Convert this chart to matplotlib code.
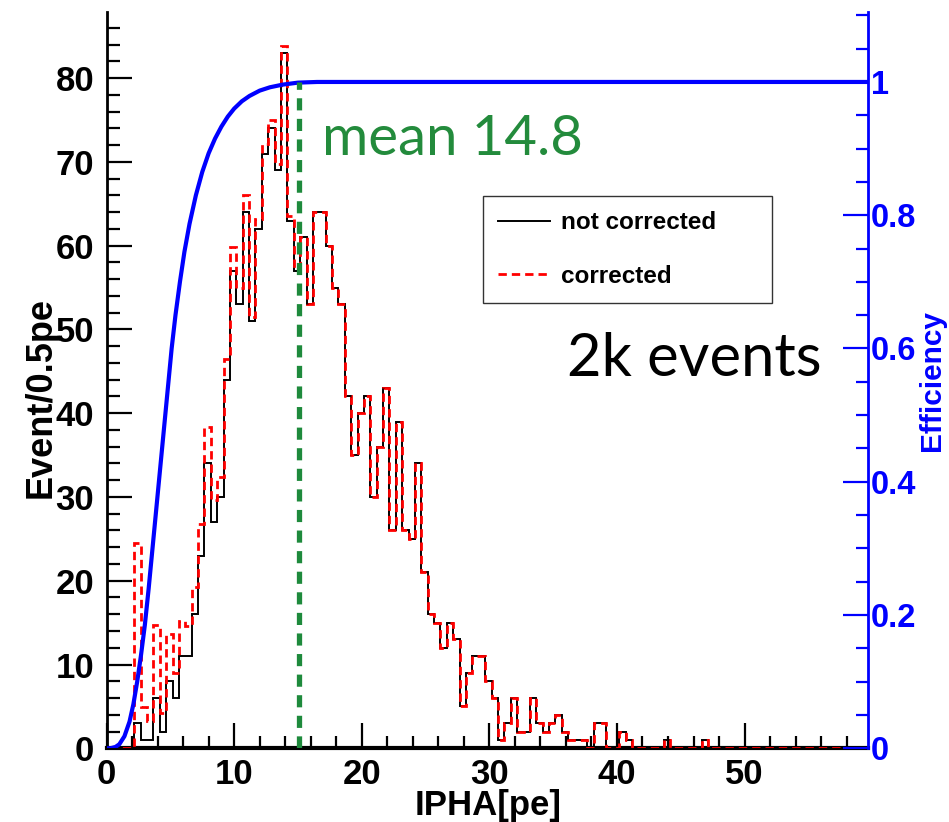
import numpy as np
import matplotlib
matplotlib.use('Agg')
import matplotlib.pyplot as plt
from matplotlib.ticker import MultipleLocator, FixedLocator, FixedFormatter

# ---------------- data ----------------
bin_start = 0.17
bin_width = 0.5

not_corrected = [0, 0, 0, 0, 3, 1, 1, 6, 2, 8,
                 6, 11, 11, 16, 23, 34, 27, 30, 44, 57,
                 53, 64, 51, 62, 71, 74, 69, 83, 63, 57,
                 61, 53, 64, 64, 60, 55, 53, 42, 35, 40,
                 42, 30, 36, 43, 26, 39, 26, 25, 34, 21,
                 16, 15, 12, 15, 13, 5, 9, 11, 11, 8,
                 6, 1, 3, 6, 2, 2, 6, 3, 2, 3,
                 4, 2, 1, 1, 1, 0, 3, 3, 0, 0,
                 2, 1, 0, 0, 0, 0, 0, 1, 0, 0,
                 0, 0, 0, 1, 0, 0, 0, 0, 0, 0,
                 0, 0, 0, 0, 0, 0, 0, 0, 0, 0,
                 0, 0, 0, 0, 0, 0, 0, 0, 0]

corrected_low = [0, 0, 0, 0, 24.5, 4.9, 3.2, 14.7, 4.2, 13.7,
                 9.0, 15.2, 14.6, 19.3, 26.8, 38.4, 29.6, 32.4, 46.5, 59.9,
                 54.9, 66.0, 51.5, 63.2, 72.2, 75.0, 69.7, 83.8, 63.6, 57.3]
corrected = corrected_low + not_corrected[len(corrected_low):]

eff_x = [0.0, 0.3, 0.7, 1.0, 1.4, 1.8, 2.1, 2.4, 2.7, 3.0, 3.3, 3.6, 3.9,
         4.2, 4.5, 4.8, 5.1, 5.4, 5.75, 6.1, 6.5, 7.0, 7.5, 8.0, 8.5, 9.0,
         9.5, 10.0, 10.6, 11.2, 12.0, 12.8, 13.8, 15.0, 16.5, 59.7]
eff_y = [0.0, 0.0, 0.002, 0.006, 0.018, 0.04, 0.066, 0.10, 0.14, 0.185, 0.24,
         0.30, 0.36, 0.42, 0.48, 0.54, 0.60, 0.65, 0.70, 0.745, 0.787, 0.83,
         0.865, 0.893, 0.915, 0.933, 0.948, 0.96, 0.971, 0.979, 0.987, 0.992,
         0.996, 0.999, 1.0, 1.0]

mean_value = 14.8
mean_line_x = 15.05
events_text = "2k events"

x_ticks = [0, 10, 20, 30, 40, 50]
y_ticks = [0, 10, 20, 30, 40, 50, 60, 70, 80]
eff_ticks = [0, 0.2, 0.4, 0.6, 0.8, 1.0]
eff_tick_labels = ['0', '0.2', '0.4', '0.6', '0.8', '1']

# ---------------- figure ----------------
plt.rcParams['font.family'] = ['Liberation Sans', 'DejaVu Sans']
fig = plt.figure(figsize=(9.49, 8.22), dpi=100)
ax = fig.add_axes([0.1123, 0.0897, 0.8027, 0.8957])

edges = bin_start + bin_width * np.arange(len(not_corrected) + 1)
ax.stairs(not_corrected, edges, color='black', lw=1.4, label='not corrected', zorder=3)
ax.stairs(corrected, edges, color='red', lw=2.0, ls=(0, (3, 1.8)), label='corrected', zorder=4)

ax.set_xlim(0, 59.7)
ax.set_ylim(0, 87.9)

for s in ['top', 'right']:
    ax.spines[s].set_visible(False)
ax.spines['left'].set_linewidth(2)
ax.spines['bottom'].set_linewidth(3)

ax.xaxis.set_major_locator(FixedLocator(x_ticks))
ax.xaxis.set_minor_locator(MultipleLocator(2))
ax.yaxis.set_major_locator(FixedLocator(y_ticks))
ax.yaxis.set_minor_locator(MultipleLocator(2))
ax.tick_params(which='major', direction='in', length=18, width=1.6,
               labelsize=25, pad=7)
ax.tick_params(axis='y', which='major', pad=9)
ax.tick_params(which='minor', direction='in', length=9, width=1.6)
for lab in ax.get_xticklabels() + ax.get_yticklabels():
    lab.set_fontweight('bold')

fig.text(488 / 949, 1 - 805 / 822, 'IPHA[pe]', fontsize=25, fontweight='bold',
         ha='center', va='center')
fig.text(41 / 949, 1 - 397 / 822, 'Event/0.5pe', fontsize=26, fontweight='bold',
         ha='center', va='center', rotation=90)

leg = ax.legend(loc='upper left', bbox_to_anchor=(0.494, 0.601, 0.38, 0.149),
                mode='expand', borderaxespad=0, fancybox=False, frameon=True,
                edgecolor='black', prop={'weight': 'bold', 'size': 17.5},
                handlelength=2.15, handletextpad=0.45, labelspacing=1.26,
                borderpad=0.62)
leg.get_frame().set_linewidth(1.0)

# mean label and events label
ax.text(16.87, 70.8, f'mean {mean_value}', color='#238b3c', fontsize=40.5,
        family='Lato', va='baseline', ha='left')
ax.text(36.1, 44.5, events_text, color='black', fontsize=43,
        family='Lato', va='baseline', ha='left')

# ---------------- efficiency axis ----------------
ax2 = ax.twinx()
ax2.set_ylim(0, 1.105)
ax2.plot(eff_x, eff_y, color='#0000ff', lw=3.0, solid_joinstyle='round', zorder=5)
ax2.plot([mean_line_x, mean_line_x], [0, 1.0], color='#1e8a3c', lw=3.8,
         ls=(0, (2.3, 1.6)), zorder=6)

for s in ['top', 'left', 'bottom']:
    ax2.spines[s].set_visible(False)
ax2.spines['right'].set_color('#0000ff')
ax2.spines['right'].set_linewidth(2)
ax2.yaxis.set_major_locator(FixedLocator(eff_ticks))
ax2.yaxis.set_major_formatter(FixedFormatter(eff_tick_labels))
ax2.yaxis.set_minor_locator(MultipleLocator(0.05))
ax2.tick_params(which='major', direction='in', length=18, width=1.6,
                colors='#0000ff', labelsize=23.5, pad=2)
ax2.tick_params(which='minor', direction='in', length=9, width=1.6, colors='#0000ff')
for lab in ax2.get_yticklabels():
    lab.set_fontweight('bold')
fig.text(932 / 949, 1 - 380 / 822, 'Efficiency', color='#0000ff', fontsize=21.5,
         fontweight='bold', ha='center', va='center', rotation=90)

fig.savefig('out.png', dpi=100)
